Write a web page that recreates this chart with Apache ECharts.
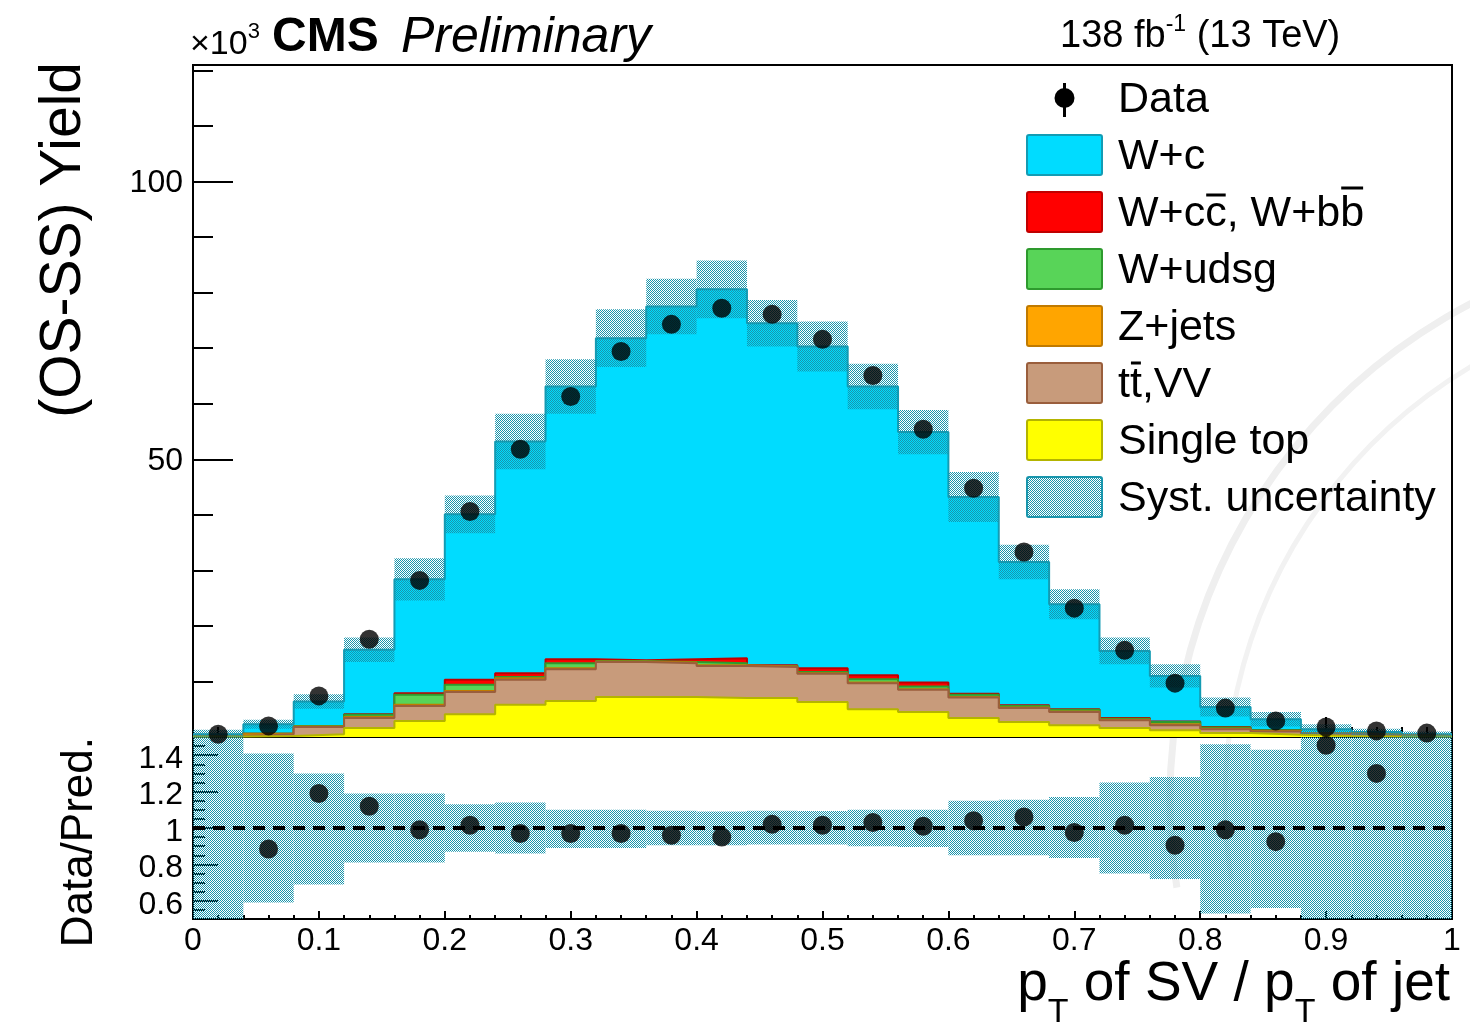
<!DOCTYPE html>
<html>
<head>
<meta charset="utf-8">
<title>pT of SV / pT of jet</title>
<script src="https://cdn.jsdelivr.net/npm/echarts@6/dist/echarts.min.js"></script>
<style>
html, body { margin: 0; padding: 0; background: #fff; }
#chart { width: 1470px; height: 1028px; }
</style>
</head>
<body>
<div id="chart"></div>
<script>
// bin edges of pT(SV)/pT(jet), 25 bins
var binEdges = [0, 0.04, 0.08, 0.12, 0.16, 0.2, 0.24, 0.28, 0.32, 0.36, 0.4, 0.44, 0.48, 0.52,
    0.56, 0.6, 0.64, 0.68, 0.72, 0.76, 0.8, 0.84, 0.88, 0.92, 0.96, 1];

// yields, units of 10^3
var dataYield = [0.5, 2.0, 7.4, 17.6, 28.2, 40.6, 51.8, 61.3, 69.4, 74.3, 77.2, 76.1, 71.6,
    65.1, 55.4, 44.8, 33.3, 23.2, 15.6, 9.7, 5.2, 2.9, 1.8, 1.1, 0.7];
var wc = [0.3, 1.7, 4.4, 11.6, 20.5, 29.8, 41.7, 49.1, 58.0, 63.5, 66.4, 61.6, 57.9,
    52.0, 45.1, 35.4, 25.8, 18.9, 12.1, 8.2, 3.6, 2.0, 0.7, 0.5, 0.3];
var wccbb = [0, 0, 0, 0.1, 0.3, 0.9, 0.7, 0.7, 0.1, 0.5, 0.9, 0.1, 0.7,
    0.7, 0.7, 0.2, 0.1, 0.1, 0.1, 0.1, 0.1, 0, 0, 0, 0];
var wudsg = [0, 0, 0.1, 0.4, 1.8, 1.1, 0.2, 0.9, 0.1, 0.1, 0.4, 0.1, 0.2,
    0.6, 0.5, 0.4, 0.3, 0.3, 0.2, 0.4, 0.2, 0.1, 0, 0, 0];
var zjets = [0, 0.1, 0.1, 0.2, 0.2, 0.2, 0.3, 0.2, 0.1, 0.1, 0.1, 0.1, 0.1,
    0.1, 0.1, 0.1, 0.1, 0.1, 0.1, 0.2, 0.1, 0.1, 0.1, 0.1, 0];
var ttvv = [0.1, 0.3, 1.3, 1.8, 2.7, 4.0, 4.5, 5.7, 6.3, 6.1, 5.8, 5.6, 5.1,
    4.7, 4.0, 3.7, 2.5, 2.4, 1.4, 0.9, 0.7, 0.6, 0.4, 0.2, 0.1];
var singleTop = [0.1, 0.2, 0.5, 1.6, 2.9, 4.1, 5.8, 6.5, 7.2, 7.2, 7.0, 7.0, 6.3,
    5.0, 4.5, 3.4, 2.7, 2.1, 1.6, 1.2, 0.7, 0.4, 0.2, 0.1, 0.1];
// half width of the syst. band in the upper panel
var systHalf = [0.8, 0.8, 1.3, 2.2, 3.8, 3.4, 5.0, 4.9, 5.2, 5.0, 5.2, 4.2, 4.5,
    4.1, 4.0, 4.5, 3.1, 2.7, 2.4, 2.1, 1.7, 1.3, 0.9, 0.6, 0.5];

// ratio panel (null = out of range)
var ratio = [null, 0.885, 1.19, 1.12, 0.99, 1.015, 0.97, 0.97, 0.97, 0.96, 0.95, 1.02, 1.015,
    1.03, 1.01, 1.04, 1.06, 0.975, 1.015, 0.905, 0.99, 0.925, 1.455, 1.30, null];
var ratioBandLo = [0.5, 0.59, 0.69, 0.81, 0.81, 0.87, 0.86, 0.89, 0.89, 0.905, 0.905, 0.91, 0.91,
    0.90, 0.895, 0.85, 0.85, 0.835, 0.75, 0.72, 0.53, 0.56, 0.5, 0.5, 0.5];
var ratioBandHi = [1.5, 1.41, 1.30, 1.19, 1.19, 1.13, 1.14, 1.10, 1.10, 1.095, 1.09, 1.095, 1.093,
    1.10, 1.10, 1.15, 1.155, 1.17, 1.25, 1.28, 1.46, 1.43, 1.5, 1.5, 1.5];

var FF = '"Liberation Sans", Arial, Helvetica, sans-serif';

// stack, bottom to top
var stack = [
    { name: 'Single top', vals: singleTop, fill: '#FFFF00', line: '#B4B400' },
    { name: 'tt,VV', vals: ttvv, fill: '#C89B7B', line: '#9A5E3C' },
    { name: 'Z+jets', vals: zjets, fill: '#FFA500', line: '#C07A00' },
    { name: 'W+udsg', vals: wudsg, fill: '#58D458', line: '#2E9A2E' },
    { name: 'W+cc, W+bb', vals: wccbb, fill: '#FF0000', line: '#C00000' },
    { name: 'W+c', vals: wc, fill: '#00DCFF', line: '#139CB4' }
];

function makeHatch(color) {
    var c = document.createElement('canvas');
    c.width = 2; c.height = 2;
    var g = c.getContext('2d');
    g.fillStyle = color;
    g.fillRect(0, 0, 1, 1);
    g.fillRect(1, 1, 1, 1);
    return c;
}
var hatch = { image: makeHatch('#1895AC'), repeat: 'repeat' };

var nBins = binEdges.length - 1;
var centers = [];
for (var i = 0; i < nBins; i++) centers.push((binEdges[i] + binEdges[i + 1]) / 2);

// cumulative stack levels
var cum = [];
stack.forEach(function (s, k) {
    cum.push(s.vals.map(function (v, i) { return v + (k > 0 ? cum[k - 1][i] : 0); }));
});
var mcTotal = cum[cum.length - 1];

var series = [];
for (var k = stack.length - 1; k >= 0; k--) {
    var pts = [];
    for (var i = 0; i < nBins; i++) pts.push([binEdges[i], cum[k][i]]);
    pts.push([binEdges[nBins], cum[k][nBins - 1]]);
    series.push({
        type: 'line', name: stack[k].name, xAxisIndex: 0, yAxisIndex: 0,
        data: pts, step: 'end', symbol: 'none', z: 2 + (stack.length - k),
        lineStyle: { color: stack[k].line, width: 2 },
        areaStyle: { color: stack[k].fill, opacity: 1 }
    });
}

function bandRender(params, api) {
    var p1 = api.coord([api.value(0), api.value(3)]);
    var p2 = api.coord([api.value(1), api.value(2)]);
    return {
        type: 'rect',
        shape: { x: p1[0], y: p1[1], width: p2[0] - p1[0], height: p2[1] - p1[1] },
        style: { fill: hatch }
    };
}

var mainBand = [], ratioBand = [];
for (var i = 0; i < nBins; i++) {
    mainBand.push([binEdges[i], binEdges[i + 1], mcTotal[i] - systHalf[i], mcTotal[i] + systHalf[i]]);
    ratioBand.push([binEdges[i], binEdges[i + 1], ratioBandLo[i], ratioBandHi[i]]);
}

series.push({
    type: 'custom', xAxisIndex: 0, yAxisIndex: 0, data: mainBand, clip: true, z: 10,
    encode: { x: [0, 1], y: [2, 3] }, renderItem: bandRender
});
series.push({
    type: 'scatter', xAxisIndex: 0, yAxisIndex: 0, z: 12, symbolSize: 19,
    itemStyle: { color: '#000' },
    data: dataYield.map(function (v, i) { return [centers[i], v]; })
});
series.push({
    type: 'custom', xAxisIndex: 1, yAxisIndex: 2, data: ratioBand, clip: true, z: 10,
    encode: { x: [0, 1], y: [2, 3] }, renderItem: bandRender
});
series.push({
    type: 'line', xAxisIndex: 1, yAxisIndex: 2, symbol: 'none', z: 11,
    data: [[0, 1], [1, 1]],
    lineStyle: { color: '#000', width: 4, type: [12, 8] }
});
series.push({
    type: 'scatter', xAxisIndex: 1, yAxisIndex: 2, z: 12, symbolSize: 19,
    itemStyle: { color: '#000' },
    data: ratio.map(function (v, i) { return v === null ? null : [centers[i], v]; })
        .filter(function (d) { return d !== null; })
});

var black = { color: '#000', width: 2 };
var labelStyle = { color: '#000', fontFamily: FF, fontSize: 32 };

// text helpers for the hand-made labels
var mctx = document.createElement('canvas').getContext('2d');
function tw(str, font) { mctx.font = font; return mctx.measureText(str).width; }
var graphics = [];
function addText(x, y, str, font, more) {
    var el = {
        type: 'text', silent: true, z: 100,
        style: { text: str, x: x, y: y, font: font, fill: '#000', align: 'left', verticalAlign: 'middle' }
    };
    if (more) for (var key in more) el[key] = more[key];
    graphics.push(el);
}
function addLine(x1, y1, x2, y2, w, color) {
    graphics.push({
        type: 'line', silent: true, z: 100,
        shape: { x1: x1, y1: y1, x2: x2, y2: y2 },
        style: { stroke: color || '#000', lineWidth: w }
    });
}

// faint seal in the background
graphics.push({ type: 'arc', silent: true, z: -1,
    shape: { cx: 1730, cy: 800, r: 560, startAngle: Math.PI * 0.95, endAngle: Math.PI * 1.45 },
    style: { stroke: '#EFEFEF', lineWidth: 7, fill: null } });
graphics.push({ type: 'arc', silent: true, z: -1,
    shape: { cx: 1730, cy: 800, r: 505, startAngle: Math.PI * 0.95, endAngle: Math.PI * 1.45 },
    style: { stroke: '#F2F2F2', lineWidth: 5, fill: null } });

// header
var f34 = '34px ' + FF;
addText(190, 45, '\u00d710', f34);
addText(190 + tw('\u00d710', f34), 32, '3', '22px ' + FF);
addText(272, 38, 'CMS', 'bold 48px ' + FF);
addText(401, 38, 'Preliminary', 'italic 50px ' + FF);
var f38 = '38px ' + FF;
var xl = 1060;
addText(xl, 37, '138 fb', f38);
xl += tw('138 fb', f38);
addText(xl, 25, '-1', '23px ' + FF);
xl += tw('-1', '23px ' + FF);
addText(xl, 37, ' (13 TeV)', f38);

// axis titles
addText(0, 0, '(OS-SS) Yield', '57px ' + FF, { x: 64, y: 62, rotation: Math.PI / 2 });
graphics[graphics.length - 1].style.align = 'right';
addText(0, 0, 'Data/Pred.', '44px ' + FF, { x: 80, y: 737, rotation: Math.PI / 2 });
graphics[graphics.length - 1].style.align = 'right';

var f55 = '55px ' + FF, f34s = '34px ' + FF;
var parts = [['p', f55, 0], ['T', f34s, 1], [' of SV / p', f55, 0], ['T', f34s, 1], [' of jet', f55, 0]];
var totalW = 0;
parts.forEach(function (p) { totalW += tw(p[0], p[1]); });
var px = 1450 - totalW;
parts.forEach(function (p) {
    addText(px, p[2] ? 1013 : 985, p[0], p[1]);
    px += tw(p[0], p[1]);
});

// legend
var legX = 1027, legW = 75, legH = 40, legTextX = 1118, legTop = 98, legStep = 57;
var fLeg = '43px ' + FF;
var legRows = [
    { label: 'Data' },
    { label: 'W+c', fill: '#00DCFF', line: '#139CB4' },
    { label: 'W+cc, W+bb', fill: '#FF0000', line: '#C00000', bars: [['W+c', 'c', -17], ['W+cc, W+b', 'b', -24]] },
    { label: 'W+udsg', fill: '#58D458', line: '#2E9A2E' },
    { label: 'Z+jets', fill: '#FFA500', line: '#C07A00' },
    { label: 'tt,VV', fill: '#C89B7B', line: '#9A5E3C', bars: [['t', 't', -20]] },
    { label: 'Single top', fill: '#FFFF00', line: '#B4B400' },
    { label: 'Syst. uncertainty', fill: hatch, line: '#1895AC' }
];
legRows.forEach(function (r, idx) {
    var cy = legTop + idx * legStep;
    if (idx === 0) {
        addLine(legX + legW / 2, cy - 15, legX + legW / 2, cy + 19, 3);
        graphics.push({ type: 'circle', silent: true, z: 100,
            shape: { cx: legX + legW / 2, cy: cy, r: 10 }, style: { fill: '#000' } });
    } else {
        graphics.push({ type: 'rect', silent: true, z: 100,
            shape: { x: legX, y: cy - legH / 2, width: legW, height: legH, r: 2 },
            style: { fill: r.fill, stroke: r.line, lineWidth: 2 } });
    }
    addText(legTextX, cy + 2, r.label, fLeg);
    (r.bars || []).forEach(function (b) {
        var x0 = legTextX + tw(b[0], fLeg);
        addLine(x0 + 1, cy + b[2], x0 + tw(b[1], fLeg) - 1, cy + b[2], 3);
    });
});

var option = {
    animation: false,
    backgroundColor: '#fff',
    grid: [
        { left: 193, top: 65, width: 1259, height: 672, show: true, borderColor: '#000', borderWidth: 2, backgroundColor: 'transparent' },
        { left: 193, top: 737, width: 1259, height: 182, show: true, borderColor: '#000', borderWidth: 2, backgroundColor: 'transparent' },
        // major ticks of the ratio panel, 0.6 .. 1.4
        { left: 193, top: 755.2, width: 1259, height: 145.6, show: false },
        // ratio labels, set a few px lower like the original
        { left: 193, top: 759.2, width: 1259, height: 145.6, show: false },
        // main labels
        { left: 193, top: 67, width: 1259, height: 672, show: false }
    ],
    xAxis: [
        { gridIndex: 0, type: 'value', min: 0, max: 1, interval: 0.1,
          axisLine: { lineStyle: black }, axisLabel: { show: false },
          axisTick: { inside: true, length: 20, lineStyle: black },
          minorTick: { show: true, splitNumber: 5, length: 10, lineStyle: black },
          splitLine: { show: false } },
        { gridIndex: 1, type: 'value', min: 0, max: 1, interval: 0.1,
          axisLine: { lineStyle: black }, axisLabel: Object.assign({ margin: 6 }, labelStyle),
          axisTick: { inside: true, length: 8, lineStyle: black },
          minorTick: { show: true, splitNumber: 5, length: 4, lineStyle: black },
          splitLine: { show: false } },
        { gridIndex: 2, type: 'value', min: 0, max: 1, show: false },
        { gridIndex: 3, type: 'value', min: 0, max: 1, show: false },
        { gridIndex: 4, type: 'value', min: 0, max: 1, show: false }
    ],
    yAxis: [
        { gridIndex: 0, type: 'value', position: 'left', min: 0, max: 121, interval: 10,
          axisLine: { show: true, lineStyle: black }, axisLabel: { show: false },
          axisTick: { inside: true, length: 20, lineStyle: black }, splitLine: { show: false } },
        { gridIndex: 0, type: 'value', position: 'left', min: 0, max: 121, interval: 50,
          axisLine: { show: false }, axisTick: { inside: true, length: 40, lineStyle: black },
          axisLabel: { show: false }, splitLine: { show: false } },
        { gridIndex: 1, type: 'value', position: 'left', min: 0.5, max: 1.5, interval: 0.05,
          axisLine: { show: true, lineStyle: black }, axisLabel: { show: false },
          axisTick: { inside: true, length: 12, lineStyle: black }, splitLine: { show: false } },
        { gridIndex: 2, type: 'value', position: 'left', min: 0.6, max: 1.4, interval: 0.2,
          axisLine: { show: false }, axisTick: { inside: true, length: 25, lineStyle: black },
          axisLabel: { show: false }, splitLine: { show: false } },
        { gridIndex: 3, type: 'value', position: 'left', min: 0.6, max: 1.4, interval: 0.2,
          axisLine: { show: false }, axisTick: { show: false },
          axisLabel: Object.assign({ margin: 10 }, labelStyle), splitLine: { show: false } },
        { gridIndex: 4, type: 'value', position: 'left', min: 0, max: 121, interval: 50,
          axisLine: { show: false }, axisTick: { show: false },
          axisLabel: Object.assign({ margin: 10, showMinLabel: false, showMaxLabel: false }, labelStyle),
          splitLine: { show: false } }
    ],
    series: series,
    graphic: { elements: graphics }
};

var chart = echarts.init(document.getElementById('chart'), null, { renderer: 'canvas' });
chart.setOption(option);
</script>
</body>
</html>
